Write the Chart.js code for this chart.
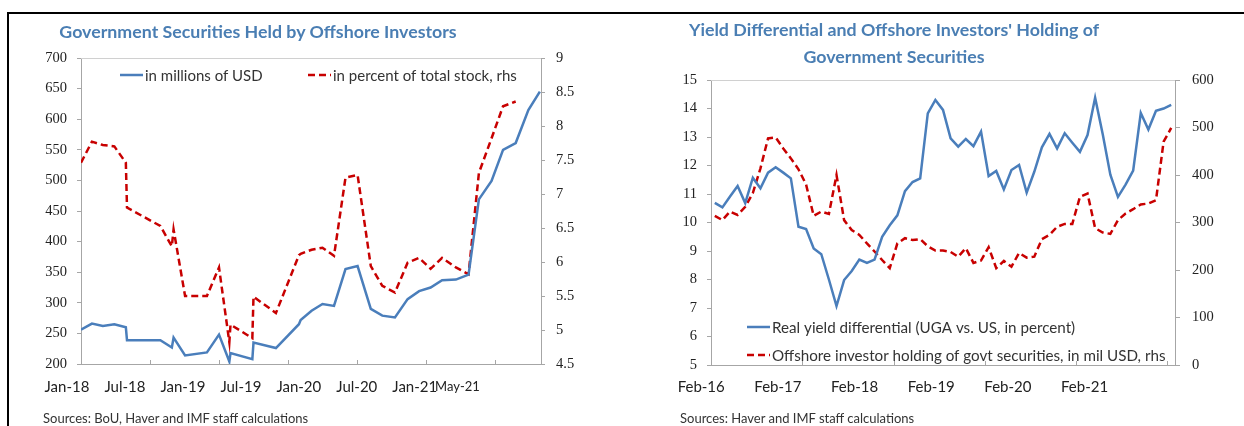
<!DOCTYPE html>
<html>
<head>
<meta charset="utf-8">
<script src="https://cdn.jsdelivr.net/npm/chart.js@4.4.1/dist/chart.umd.min.js"></script>
<style>
html,body{margin:0;padding:0;background:#fff;}
body{width:1244px;height:426px;position:relative;overflow:hidden;font-family:Lato,"Open Sans",sans-serif;}
#frameTop{position:absolute;left:7px;top:12px;width:1237px;height:2px;background:#000;}
#frameLeft{position:absolute;left:7px;top:12px;width:2px;height:414px;background:#000;}
#cLeft{position:absolute;left:0;top:0;}
#cRight{position:absolute;left:620px;top:0;}
.title{position:absolute;color:#4a7eb3;font-weight:bold;font-size:17.8px;text-align:center;white-space:nowrap;transform:translateX(-50%);}
.src{position:absolute;font-size:13px;color:#333;white-space:nowrap;line-height:16px;}
</style>
</head>
<body>
<div id="frameTop"></div>
<div id="frameLeft"></div>
<canvas id="cLeft" width="620" height="426"></canvas>
<canvas id="cRight" width="624" height="426"></canvas>
<div class="title" style="left:258px;top:20px;line-height:22px;">Government Securities Held by Offshore Investors</div>
<div class="title" style="left:894px;top:16px;line-height:27px;">Yield Differential and Offshore Investors' Holding of<br>Government Securities</div>
<div class="src" style="left:43px;top:410px;">Sources: BoU, Haver and IMF staff calculations</div>
<div class="src" style="left:680px;top:410px;">Sources: Haver and IMF staff calculations</div>
<script>
// ---------- Left chart data (x = months since Jan-18, irregular observation dates) ----------
const leftMonthPos = [0,0.95,1.9,2.9,3.9,4.0,6.9,7.9,8.05,9.05,10.95,12.0,12.9,13.0,14.9,15.0,16.95,18.95,19.1,20.05,21.0,22.0,23.0,24.05,25.2,26.2,27.3,28.4,29.4,30.4,31.4,32.6,33.7,34.6,35.7,36.7,37.8,38.9,39.9];
const leftUSD = [256,266,262,265,260,239,239,227,243,214,219,248,204,218,208,235,226,265,272,287,298,295,355,360,290,279,276,306,319,325,337,338,346,469,499,550,561,615,645];
const leftPct = [7.46,7.77,7.72,7.70,7.46,6.80,6.53,6.23,6.48,5.50,5.50,5.92,4.82,5.08,4.88,5.49,5.25,6.10,6.12,6.18,6.21,6.09,7.24,7.28,5.94,5.65,5.55,5.99,6.06,5.90,6.06,5.92,5.82,7.31,7.82,8.29,8.36,null,null];
const leftTickLabels = ['Jan-18','Jul-18','Jan-19','Jul-19','Jan-20','Jul-20','Jan-21','May-21'];
const leftTickPos = [0,6,12,18,24,30,36,40];
const leftTickMarks = [6,12,18,24,30,36];
const leftSeriesNames = ['in millions of USD','in percent of total stock, rhs'];

// ---------- Right chart data (monthly) ----------
const rightMonths = ['Feb-16','Mar-16','Apr-16','May-16','Jun-16','Jul-16','Aug-16','Sep-16','Oct-16','Nov-16','Dec-16',
 'Jan-17','Feb-17','Mar-17','Apr-17','May-17','Jun-17','Jul-17','Aug-17','Sep-17','Oct-17','Nov-17','Dec-17',
 'Jan-18','Feb-18','Mar-18','Apr-18','May-18','Jun-18','Jul-18','Aug-18','Sep-18','Oct-18','Nov-18','Dec-18',
 'Jan-19','Feb-19','Mar-19','Apr-19','May-19','Jun-19','Jul-19','Aug-19','Sep-19','Oct-19','Nov-19','Dec-19',
 'Jan-20','Feb-20','Mar-20','Apr-20','May-20','Jun-20','Jul-20','Aug-20','Sep-20','Oct-20','Nov-20','Dec-20',
 'Jan-21','Feb-21'];
const yieldDiff = [10.69,10.53,10.91,11.28,10.68,11.57,11.20,11.75,11.94,11.75,
 11.55,9.85,9.77,9.09,8.89,8.0,7.07,7.98,8.30,8.70,
 8.58,8.70,9.5,9.9,10.25,11.1,11.42,11.55,13.83,14.30,
 13.95,12.95,12.66,12.93,12.68,13.19,11.63,11.81,11.16,11.84,
 12.02,11.05,11.78,12.64,13.11,12.60,13.13,12.80,12.48,13.07,
 14.38,13.1,11.68,10.9,11.33,11.82,13.84,13.26,13.92,14.0,14.13];
const offshoreHolding = [314,305,323,316,333,362,414,477,479,456,
 435,412,380,314,323,318,400,305,284,274,
 256,239,221,204,256,267,263,265,250,241,
 241,238,228,246,215,220,248,204,219,207,
 236,226,228,265,274,291,297,297,354,361,
 288,279,276,305,319,328,338,340,347,470,499];
const rightTickLabels = ['Feb-16','Feb-17','Feb-18','Feb-19','Feb-20','Feb-21'];
const rightTickPos = [0,12,24,36,48,60];
const rightTickMarks = [11.5,23.5,35.5,47.5,59.5];
const rightSeriesNames = ['Real yield differential (UGA vs. US, in percent)','Offshore investor holding of govt securities, in mil USD, rhs'];

// ---------- styles ----------
const BLUE = '#4a7ebb';
const RED = '#c80000';
const AXIS = '#a6a6a6';
const TEXT = '#222';
const SANS = 'Lato, "Open Sans", sans-serif';
const SERIF = 'Liberation Serif';

const extras = {
  id: 'extras',
  afterDraw(chart, args, o) {
    const {ctx, chartArea: ca} = chart;
    const xs = chart.scales.x;
    ctx.save();
    ctx.strokeStyle = o.topColor; ctx.lineWidth = 1;
    ctx.beginPath(); ctx.moveTo(ca.left, ca.top + 0.5); ctx.lineTo(ca.right, ca.top + 0.5); ctx.stroke();
    ctx.strokeStyle = AXIS;
    o.tickMarks.forEach(v => {
      const px = Math.round(xs.getPixelForValue(v)) + 0.5;
      ctx.beginPath(); ctx.moveTo(px, ca.bottom); ctx.lineTo(px, ca.bottom - 4); ctx.stroke();
    });
    ctx.fillStyle = TEXT; ctx.textAlign = 'center'; ctx.textBaseline = 'middle';
    o.labels.forEach((t, i) => {
      const vp = xs.getPixelForValue(o.labelPos[i]);
      const px = ca.left + (vp - ca.left) * o.squeeze + o.shift;
      const small = o.smallLast && i === o.labels.length - 1;
      ctx.font = (small ? '13px ' : '15px ') + SANS;
      ctx.fillText(t, px + (small ? 4 : 0), ca.bottom + o.labelDy);
    });
    ctx.textAlign = 'left';
    ctx.font = o.legendFont;
    o.legend.forEach(it => {
      const ds = chart.data.datasets[it.ds];
      ctx.strokeStyle = ds.borderColor; ctx.lineWidth = ds.borderWidth;
      ctx.setLineDash(ds.borderDash || []);
      ctx.beginPath(); ctx.moveTo(it.x, it.y); ctx.lineTo(it.x + 23, it.y); ctx.stroke();
      ctx.setLineDash([]);
      ctx.fillStyle = '#333';
      ctx.fillText(ds.label, it.x + 25, it.y + 1);
    });
    ctx.restore();
  }
};

function yAxis(pos, min, max, step, width, tickLen, pad) {
  return {
    position: pos, min: min, max: max,
    ticks: {stepSize: step, color: TEXT, padding: pad, font: {family: SERIF, size: 14.5},
            callback: v => String(parseFloat(Number(v).toFixed(2)))},
    grid: {drawOnChartArea: false, drawTicks: true, tickLength: tickLen, color: AXIS},
    border: {color: AXIS, width: 1},
    afterFit(s) { s.width = width; }
  };
}

// ---------- Left chart ----------
new Chart(document.getElementById('cLeft'), {
  type: 'line',
  data: {
    datasets: [
      {label: leftSeriesNames[0], data: leftMonthPos.map((m, i) => ({x: m, y: leftUSD[i]})),
       borderColor: BLUE, borderWidth: 2.5, pointRadius: 0, tension: 0, yAxisID: 'y'},
      {label: leftSeriesNames[1], data: leftMonthPos.map((m, i) => ({x: m, y: leftPct[i]})),
       borderColor: RED, borderWidth: 2.5, borderDash: [7, 4], pointRadius: 0, tension: 0, yAxisID: 'y2'}
    ]
  },
  options: {
    responsive: false, animation: false, devicePixelRatio: 1,
    layout: {padding: {top: 58, left: 0, right: 0, bottom: 0}},
    plugins: {
      legend: {display: false}, tooltip: {enabled: false},
      extras: {topColor: '#d0d0d0', tickMarks: leftTickMarks, labels: leftTickLabels, labelPos: leftTickPos,
        squeeze: 0.84, shift: -14, labelDy: 23, smallLast: true, legendFont: '15px ' + SANS,
        legend: [{ds: 0, x: 120, y: 75}, {ds: 1, x: 308, y: 75}]}
    },
    scales: {
      x: {type: 'linear', min: 0, max: 40, position: 'bottom',
          ticks: {display: false}, grid: {drawOnChartArea: false, drawTicks: false},
          border: {color: AXIS, width: 1}, afterFit(s) { s.height = 62; }},
      y: yAxis('left', 200, 700, 50, 81, 4, 10),
      y2: yAxis('right', 4.5, 9, 0.5, 79, 4, 11)
    }
  },
  plugins: [extras]
});

// ---------- Right chart ----------
new Chart(document.getElementById('cRight'), {
  type: 'line',
  data: {
    labels: rightMonths,
    datasets: [
      {label: rightSeriesNames[0], data: yieldDiff, borderColor: BLUE, borderWidth: 2.5, pointRadius: 0, tension: 0, yAxisID: 'y'},
      {label: rightSeriesNames[1], data: offshoreHolding, borderColor: RED, borderWidth: 2.5, borderDash: [7, 4], pointRadius: 0, tension: 0, yAxisID: 'y2'}
    ]
  },
  options: {
    responsive: false, animation: false, devicePixelRatio: 1,
    layout: {padding: {top: 80, left: 0, right: 0, bottom: 0}},
    plugins: {
      legend: {display: false}, tooltip: {enabled: false},
      extras: {topColor: '#d0d0d0', tickMarks: rightTickMarks, labels: rightTickLabels, labelPos: rightTickPos,
        squeeze: 0.84, shift: -13, labelDy: 22, smallLast: false, legendFont: '15.2px ' + SANS,
        legend: [{ds: 0, x: 127, y: 327}, {ds: 1, x: 127, y: 355}]}
    },
    scales: {
      x: {type: 'category', offset: true, position: 'bottom',
          ticks: {display: false}, grid: {drawOnChartArea: false, drawTicks: false, offset: true},
          border: {color: AXIS, width: 1}, afterFit(s) { s.height = 61; }},
      y: yAxis('left', 5, 15, 1, 91, 4, 10),
      y2: yAxis('right', 0, 600, 100, 69, 5, 12)
    }
  },
  plugins: [extras]
});
</script>
</body>
</html>
